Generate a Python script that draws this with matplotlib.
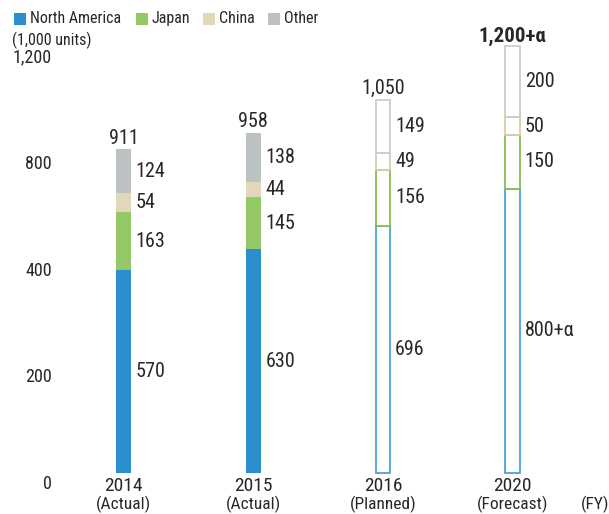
import matplotlib
matplotlib.use("Agg")
import matplotlib.pyplot as plt
from matplotlib.patches import Rectangle
import matplotlib.transforms as mtransforms

plt.rcParams['font.family'] = ['Roboto Condensed', 'DejaVu Sans']

# ---- data (1,000 units) ----
years = ["2014", "2015", "2016", "2020"]
status = ["(Actual)", "(Actual)", "(Planned)", "(Forecast)"]
north_america = [570, 630, 696, 800]
japan = [163, 145, 156, 150]
china = [54, 44, 49, 50]
other = [124, 138, 149, 200]
totals = [911, 958, 1050, 1200]
total_labels = ["911", "958", "1,050", "1,200+α"]
na_labels = ["570", "630", "696", "800+α"]
filled = [True, True, False, False]

series_names = ["North America", "Japan", "China", "Other"]
series_values = [north_america, japan, china, other]
fill_colors = ["#2B8FCD", "#95C867", "#E1D8BA", "#BCC1C4"]
edge_colors = ["#4DA3DA", "#86BE4E", "#D9CDA8", "#C9CED1"]

y_tick_labels = ["0", "200", "400", "800", "1,200"]
y_tick_pos = [-31, 270, 568, 869, 1170]

TEXT = "#2B2527"

fig = plt.figure(figsize=(6.09, 5.14), dpi=100)
ax = fig.add_axes([0, 0, 1, 1])
ax.set_xlim(-0.952, 3.743)
ax.set_ylim(-115.3, 1330.5)
ax.axis("off")

bar_w = 0.116
xs = list(range(len(years)))

for i, x in enumerate(xs):
    bottom = 0
    for s, vals in enumerate(series_values):
        v = vals[i]
        if filled[i]:
            ax.bar(x, v, bottom=bottom, width=bar_w, color=fill_colors[s],
                   edgecolor="none", linewidth=0)
        else:
            ax.bar(x, v, bottom=bottom, width=bar_w - 0.006, color="white",
                   edgecolor=edge_colors[s], linewidth=1.3)
        # segment value
        lbl = na_labels[i] if s == 0 else str(v)
        ax.text(x + bar_w / 2 + 0.035, bottom + v / 2, lbl, ha="left",
                va="center", fontsize=14.5, color=TEXT)
        bottom += v
    # total above the stack
    bold = (i == 3)
    ax.text(x, totals[i] + (12 if bold else 15), total_labels[i],
            ha="center", va="baseline",
            fontsize=14.5 if not bold else 15, color=TEXT,
            fontweight="bold" if bold else "normal")
    # category labels
    ax.text(x, -37, years[i], ha="center", va="center", fontsize=14,
            color=TEXT)
    ax.text(x, -89, status[i], ha="center", va="center", fontsize=12.5,
            color=TEXT)

ax.text(3.635, -89, "(FY)", ha="center", va="center", fontsize=12.5,
        color=TEXT)

# value axis labels
trans = mtransforms.blended_transform_factory(ax.transAxes, ax.transData)
for lbl, pos in zip(y_tick_labels, y_tick_pos):
    ax.text(52 / 609, pos, lbl, transform=trans, ha="right", va="center",
            fontsize=13, color=TEXT)

fig.text(12 / 609, 1 - 40 / 514, "(1,000 units)", ha="left", va="center",
         fontsize=11.5, color=TEXT)

# legend
leg_x = [14, 136, 203, 268]
for name, col, lx in zip(series_names, fill_colors, leg_x):
    fig.patches.append(Rectangle((lx / 609, 1 - 25 / 514), 12 / 609, 12 / 514,
                                 transform=fig.transFigure, facecolor=col,
                                 edgecolor="none"))
    fig.text((lx + 16) / 609, 1 - 18.5 / 514, name, ha="left", va="center",
             fontsize=11.5, color=TEXT)

fig.savefig("out.png", dpi=100)
